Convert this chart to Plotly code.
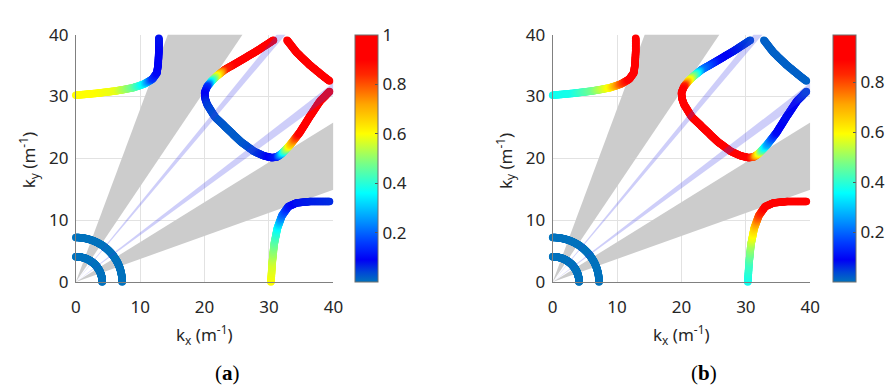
import numpy as np
import plotly.graph_objects as go

# ---------------- data ----------------
TICKS = [0, 10, 20, 30, 40]
CB_TICKS_A = [0.2, 0.4, 0.6, 0.8, 1.0]
CB_TICKS_B = [0.2, 0.4, 0.6, 0.8]

# quarter circles (radius, value)
RADII = [4.1, 7.2]
CIRCLE_VALUE = 0.0

# upper-left branch
UL_X = [0.0, 3.2, 6.3, 8.9, 10.6, 11.9, 12.6, 12.8, 12.9, 12.9]
UL_Y = [30.2, 30.5, 30.9, 31.4, 32.0, 32.8, 33.8, 35.3, 37.4, 39.4]
UL_VA = [0.60, 0.60, 0.58, 0.47, 0.35, 0.16, 0.10, 0.09, 0.09, 0.08]
UL_VB = [0.37, 0.38, 0.47, 0.60, 0.78, 0.90, 0.94, 0.95, 0.95, 0.96]

# lower-right branch
LR_X = [30.3, 30.5, 30.8, 31.3, 32.0, 33.0, 34.3, 36.3, 39.4]
LR_Y = [0.0, 3.1, 6.1, 8.7, 10.7, 12.2, 12.8, 13.0, 13.0]
LR_VA = [0.60, 0.56, 0.47, 0.37, 0.22, 0.12, 0.08, 0.07, 0.06]
LR_VB = [0.37, 0.42, 0.52, 0.65, 0.80, 0.90, 0.94, 0.96, 0.97]

# diamond: top-left edge -> left vertex -> bottom vertex -> bottom-right edge
D1_X = [30.7, 28.2, 25.6, 23.1, 21.9, 21.1, 20.4, 20.0, 20.1, 20.4, 21.6, 23.6,
        25.6, 27.7, 29.2, 30.4, 31.2, 31.8, 32.5, 33.3, 34.8, 36.3, 37.9, 39.4]
D1_Y = [39.1, 37.4, 35.8, 34.3, 33.3, 32.5, 31.6, 30.6, 29.6, 28.7, 26.7, 24.7,
        22.7, 21.1, 20.4, 20.1, 20.2, 20.6, 21.3, 22.2, 24.2, 26.7, 29.2, 30.8]
D1_VA = [0.97, 0.97, 0.95, 0.85, 0.60, 0.40, 0.15, 0.10, 0.08, 0.05, 0.03, 0.02,
         0.02, 0.04, 0.07, 0.10, 0.12, 0.25, 0.45, 0.65, 0.92, 0.96, 0.97, 0.97]
D1_VB = [0.03, 0.07, 0.10, 0.22, 0.45, 0.62, 0.85, 0.93, 0.96, 0.97, 0.97, 0.97,
         0.97, 0.97, 0.96, 0.92, 0.80, 0.65, 0.45, 0.28, 0.10, 0.08, 0.09, 0.04]

# diamond: top-right edge
D2_X = [32.8, 34.3, 36.3, 38.4, 39.4]
D2_Y = [39.1, 37.1, 35.1, 33.3, 32.5]
D2_VA = [0.97, 0.97, 0.97, 0.97, 0.97]
D2_VB = [0.015, 0.015, 0.015, 0.015, 0.015]

# shaded sectors (polygon corners) and light-blue bands
GRAY_X = [[0, 14.3, 25.9], [0, 40, 40]]
GRAY_Y = [[0, 40, 40], [0, 25.8, 14.9]]
BAND_X = [[0, 31.2, 32.6], [0, 40, 40]]
BAND_Y = [[0, 40, 40], [0, 30.3, 32.2]]

# ---------------- styling ----------------
COLORSCALE = [
    [0.00, 'rgb(0,114,189)'],
    [0.04, 'rgb(0,70,215)'],
    [0.09, 'rgb(0,0,245)'],
    [0.16, 'rgb(0,60,255)'],
    [0.24, 'rgb(0,140,255)'],
    [0.36, 'rgb(0,255,255)'],
    [0.48, 'rgb(120,255,135)'],
    [0.60, 'rgb(255,255,0)'],
    [0.72, 'rgb(255,165,0)'],
    [0.84, 'rgb(255,40,0)'],
    [0.90, 'rgb(255,0,0)'],
    [1.00, 'rgb(255,0,0)'],
]
FONT = 'Noto Sans'
TXT = '#262626'
FS = 17
W, H = 893, 389


def stroke(xs, ys, vs, step=0.12):
    """Resample a drawn polyline finely so the thick coloured stroke is continuous."""
    ox, oy, ov = [], [], []
    for i in range(len(xs) - 1):
        d = np.hypot(xs[i + 1] - xs[i], ys[i + 1] - ys[i])
        n = max(1, int(np.ceil(d / step)))
        t = np.arange(n) / n
        ox.extend(xs[i] + (xs[i + 1] - xs[i]) * t)
        oy.extend(ys[i] + (ys[i + 1] - ys[i]) * t)
        ov.extend(vs[i] + (vs[i + 1] - vs[i]) * t)
    ox.append(xs[-1]); oy.append(ys[-1]); ov.append(vs[-1])
    return ox, oy, ov


fig = go.Figure()

panels = [
    ('x', 'y', 'coloraxis', UL_VA, LR_VA, D1_VA, D2_VA),
    ('x2', 'y2', 'coloraxis2', UL_VB, LR_VB, D1_VB, D2_VB),
]

MS = 7.5
for xa, ya, cax, ulv, lrv, d1v, d2v in panels:
    for gx, gy in zip(GRAY_X, GRAY_Y):
        fig.add_trace(go.Scatter(x=gx + [gx[0]], y=gy + [gy[0]], mode='none', fill='toself',
                                 fillcolor='#CCCCCC', xaxis=xa, yaxis=ya,
                                 showlegend=False, hoverinfo='skip'))
    # quarter circles
    for r in RADII:
        th = np.linspace(0, np.pi / 2, 160)
        fig.add_trace(go.Scatter(x=r * np.cos(th), y=r * np.sin(th), mode='markers',
                                 marker=dict(size=MS, color=[CIRCLE_VALUE] * len(th),
                                             coloraxis=cax, line=dict(width=0)),
                                 xaxis=xa, yaxis=ya, showlegend=False, cliponaxis=False))
    for cx, cy, cv in [(UL_X, UL_Y, ulv), (LR_X, LR_Y, lrv), (D1_X, D1_Y, d1v), (D2_X, D2_Y, d2v)]:
        sx, sy, sv = stroke(cx, cy, cv)
        fig.add_trace(go.Scatter(x=sx, y=sy, mode='markers',
                                 marker=dict(size=MS, color=sv, coloraxis=cax, line=dict(width=0)),
                                 xaxis=xa, yaxis=ya, showlegend=False, cliponaxis=False))
    for bx, by in zip(BAND_X, BAND_Y):
        fig.add_trace(go.Scatter(x=bx + [bx[0]], y=by + [by[0]], mode='none', fill='toself',
                                 fillcolor='rgba(60,60,230,0.25)', xaxis=xa, yaxis=ya,
                                 showlegend=False, hoverinfo='skip'))

ydom = [(H - 287) / H, (H - 24) / H]
axis_common = dict(range=[0, 40], tickvals=TICKS, showgrid=True, gridcolor='#E2E2E2', gridwidth=1,
                   zeroline=False, showline=True, linecolor='#808080', linewidth=1,
                   ticks='outside', tickcolor='rgba(0,0,0,0)',
                   tickfont=dict(family=FONT, size=FS, color=TXT), fixedrange=True)

cb_common = dict(thickness=23, len=(287 - 24) / H, lenmode='fraction', y=ydom[0], yanchor='bottom',
                 xanchor='left', outlinewidth=1, outlinecolor='#6e6e6e', ticks='inside', ticklen=3,
                 tickcolor='#555555', tickfont=dict(family=FONT, size=FS, color=TXT), xpad=0, ypad=0)

fig.update_layout(
    width=W, height=H, margin=dict(l=0, r=0, t=0, b=0),
    paper_bgcolor='white', plot_bgcolor='white',
    xaxis=dict(domain=[72 / W, 334 / W], anchor='y', ticklen=10, **axis_common),
    yaxis=dict(domain=ydom, anchor='x', ticklen=3, **axis_common),
    xaxis2=dict(domain=[557 / W, 819 / W], anchor='y2', ticklen=10, **axis_common),
    yaxis2=dict(domain=ydom, anchor='x2', ticklen=3, **axis_common),
    coloraxis=dict(colorscale=COLORSCALE, cmin=0, cmax=1,
                   colorbar=dict(x=356 / W, tickvals=CB_TICKS_A, ticktext=['0.2', '0.4', '0.6', '0.8', '1'],
                                 **cb_common)),
    coloraxis2=dict(colorscale=COLORSCALE, cmin=0, cmax=0.99,
                    colorbar=dict(x=842 / W, tickvals=CB_TICKS_B, ticktext=['0.2', '0.4', '0.6', '0.8'],
                                  **cb_common)),
)

annots = []
for cx, lab in [(203, '(<b>a</b>)'), (688, '(<b>b</b>)')]:
    annots.append(dict(x=cx / W, y=1 - 343 / H, xref='paper', yref='paper', showarrow=False,
                       xanchor='center', yanchor='middle',
                       text='k<sub>x</sub> (m<sup>-1</sup>)', font=dict(family=FONT, size=FS, color=TXT)))
    annots.append(dict(x=(cx + 23) / W, y=0, xref='paper', yref='paper', showarrow=False,
                       xanchor='center', yanchor='bottom', borderpad=0, yshift=-8,
                       text=lab, font=dict(family='Liberation Serif', size=21, color='black')))
for cx in [24, 509]:
    annots.append(dict(x=cx / W, y=1 - 158 / H, xref='paper', yref='paper', showarrow=False,
                       xanchor='center', yanchor='middle',
                       textangle=-90, text='k<sub>y</sub> (m<sup>-1</sup>)',
                       font=dict(family=FONT, size=FS, color=TXT)))
fig.update_layout(annotations=annots)

fig.write_html('out.html')
